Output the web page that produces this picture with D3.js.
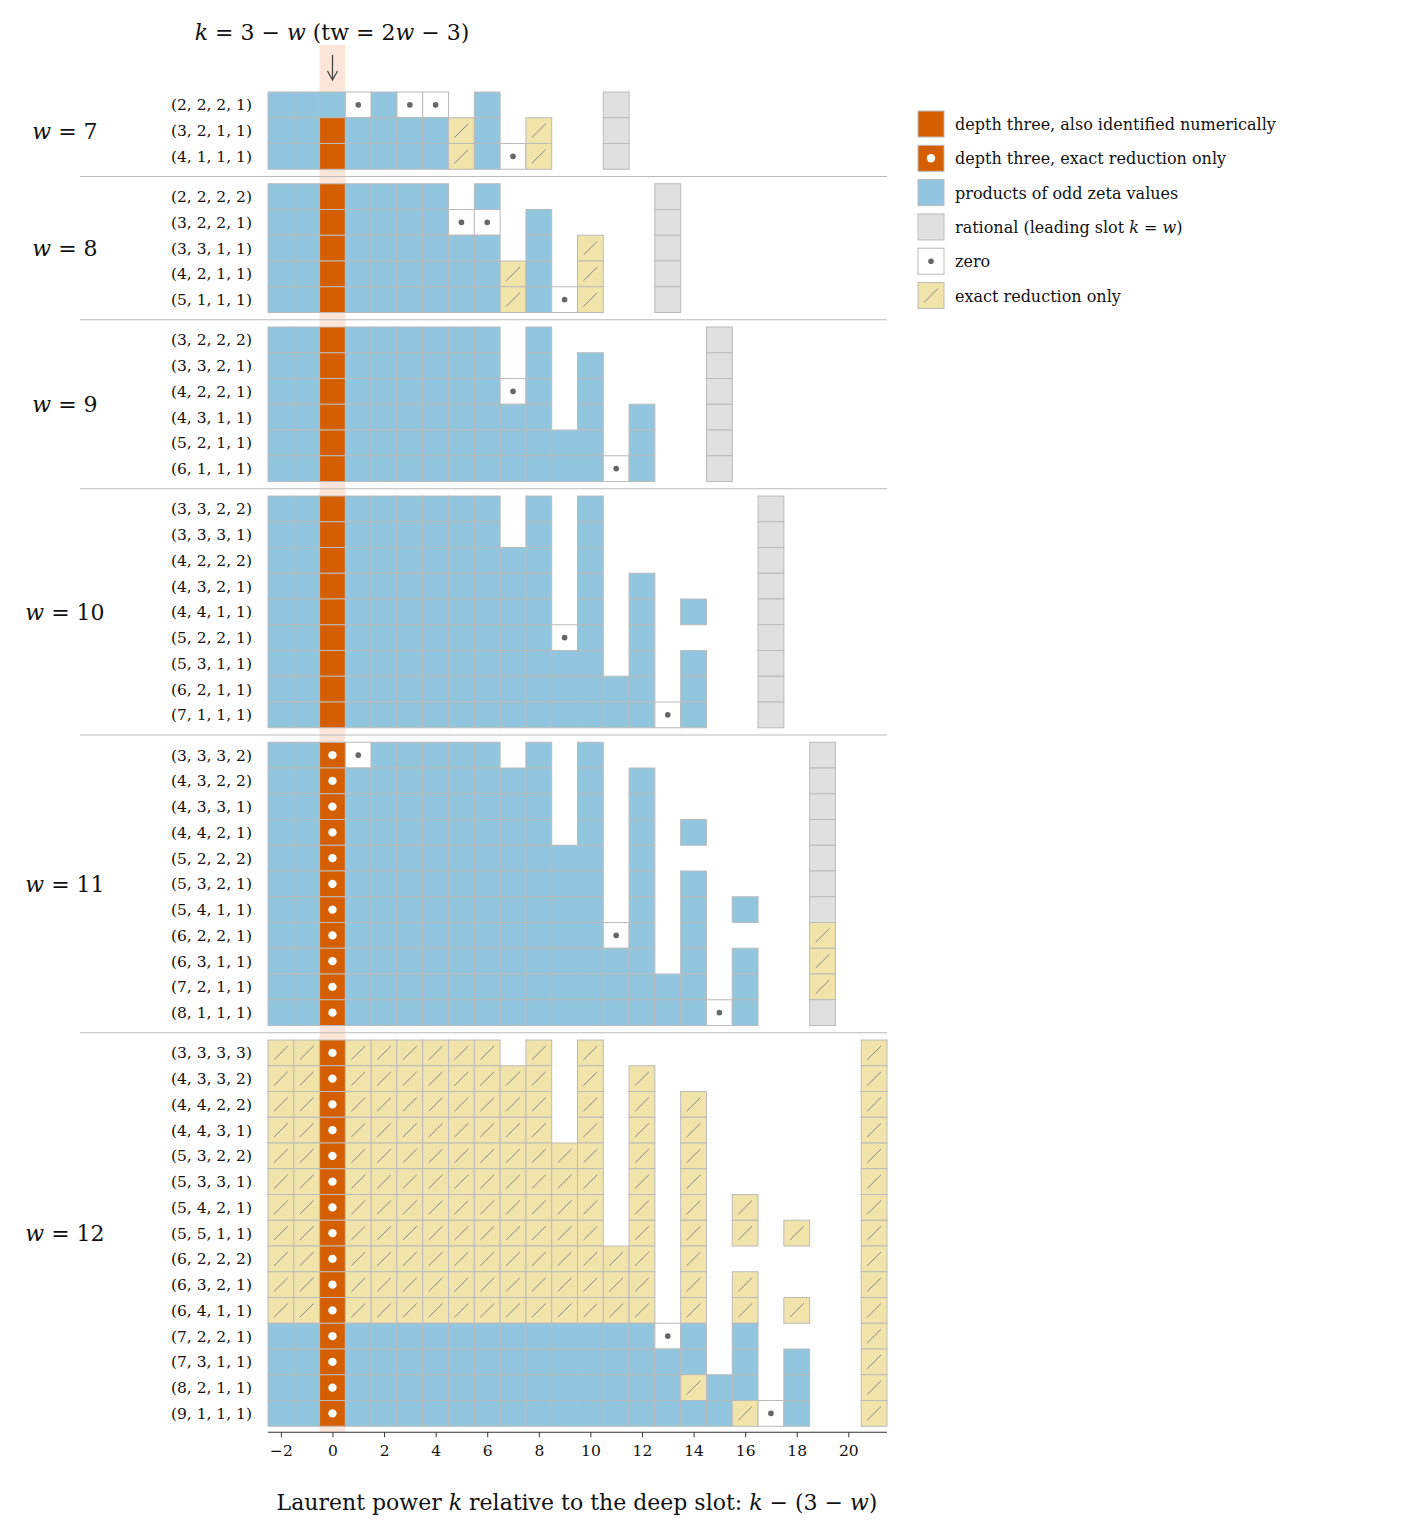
<!DOCTYPE html>
<html>
<head>
<meta charset="utf-8">
<script src="https://cdn.jsdelivr.net/npm/d3@7"></script>
<style>
  body { margin: 0; background: #fff; }
  text { font-family: "DejaVu Serif", "Liberation Serif", serif; fill: #111; }
</style>
</head>
<body>
<svg id="chart" width="1421" height="1535"></svg>
<script>
// cell codes per column k = -2 .. 21
// B products of odd zeta, O depth three (numeric), D depth three (exact only),
// G rational, Z zero, Y exact reduction only, " " empty
const weights = [7, 8, 9, 10, 11, 12];

const rowLabels = {
  7: ["(2, 2, 2, 1)", "(3, 2, 1, 1)", "(4, 1, 1, 1)"],
  8: ["(2, 2, 2, 2)", "(3, 2, 2, 1)", "(3, 3, 1, 1)", "(4, 2, 1, 1)", "(5, 1, 1, 1)"],
  9: ["(3, 2, 2, 2)", "(3, 3, 2, 1)", "(4, 2, 2, 1)", "(4, 3, 1, 1)", "(5, 2, 1, 1)", "(6, 1, 1, 1)"],
  10: ["(3, 3, 2, 2)", "(3, 3, 3, 1)", "(4, 2, 2, 2)", "(4, 3, 2, 1)", "(4, 4, 1, 1)",
       "(5, 2, 2, 1)", "(5, 3, 1, 1)", "(6, 2, 1, 1)", "(7, 1, 1, 1)"],
  11: ["(3, 3, 3, 2)", "(4, 3, 2, 2)", "(4, 3, 3, 1)", "(4, 4, 2, 1)", "(5, 2, 2, 2)",
       "(5, 3, 2, 1)", "(5, 4, 1, 1)", "(6, 2, 2, 1)", "(6, 3, 1, 1)", "(7, 2, 1, 1)", "(8, 1, 1, 1)"],
  12: ["(3, 3, 3, 3)", "(4, 3, 3, 2)", "(4, 4, 2, 2)", "(4, 4, 3, 1)", "(5, 3, 2, 2)",
       "(5, 3, 3, 1)", "(5, 4, 2, 1)", "(5, 5, 1, 1)", "(6, 2, 2, 2)", "(6, 3, 2, 1)",
       "(6, 4, 1, 1)", "(7, 2, 2, 1)", "(7, 3, 1, 1)", "(8, 2, 1, 1)", "(9, 1, 1, 1)"]
};

const rowCells = {
  7: ["BBBZBZZ B    G",
      "BBOBBBBYB Y  G",
      "BBOBBBBYBZY  G"],
  8: ["BBOBBBB B      G",
      "BBOBBBBZZ B    G",
      "BBOBBBBBB B Y  G",
      "BBOBBBBBBYB Y  G",
      "BBOBBBBBBYBZY  G"],
  9: ["BBOBBBBBB B      G",
      "BBOBBBBBB B B    G",
      "BBOBBBBBBZB B    G",
      "BBOBBBBBBBB B B  G",
      "BBOBBBBBBBBBB B  G",
      "BBOBBBBBBBBBBZB  G"],
  10: ["BBOBBBBBB B B      G",
       "BBOBBBBBB B B      G",
       "BBOBBBBBBBB B      G",
       "BBOBBBBBBBB B B    G",
       "BBOBBBBBBBB B B B  G",
       "BBOBBBBBBBBZB B    G",
       "BBOBBBBBBBBBB B B  G",
       "BBOBBBBBBBBBBBB B  G",
       "BBOBBBBBBBBBBBBZB  G"],
  11: ["BBDZBBBBB B B        G",
       "BBDBBBBBBBB B B      G",
       "BBDBBBBBBBB B B      G",
       "BBDBBBBBBBB B B B    G",
       "BBDBBBBBBBBBB B      G",
       "BBDBBBBBBBBBB B B    G",
       "BBDBBBBBBBBBB B B B  G",
       "BBDBBBBBBBBBBZB B    Y",
       "BBDBBBBBBBBBBBB B B  Y",
       "BBDBBBBBBBBBBBBBB B  Y",
       "BBDBBBBBBBBBBBBBBZB  G"],
  12: ["YYDYYYYYY Y Y          Y",
       "YYDYYYYYYYY Y Y        Y",
       "YYDYYYYYYYY Y Y Y      Y",
       "YYDYYYYYYYY Y Y Y      Y",
       "YYDYYYYYYYYYY Y Y      Y",
       "YYDYYYYYYYYYY Y Y      Y",
       "YYDYYYYYYYYYY Y Y Y    Y",
       "YYDYYYYYYYYYY Y Y Y Y  Y",
       "YYDYYYYYYYYYYYY Y      Y",
       "YYDYYYYYYYYYYYY Y Y    Y",
       "YYDYYYYYYYYYYYY Y Y Y  Y",
       "BBDBBBBBBBBBBBBZB B    Y",
       "BBDBBBBBBBBBBBBBB B B  Y",
       "BBDBBBBBBBBBBBBBYBB B  Y",
       "BBDBBBBBBBBBBBBBBBYZB  Y"]
};

const xTicks = [-2, 0, 2, 4, 6, 8, 10, 12, 14, 16, 18, 20];

const legendItems = [
  { code: "O", label: "depth three, also identified numerically" },
  { code: "D", label: "depth three, exact reduction only" },
  { code: "B", label: "products of odd zeta values" },
  { code: "G", label: "rational (leading slot ", math: "k = w", tail: ")" },
  { code: "Z", label: "zero" },
  { code: "Y", label: "exact reduction only" }
];

const fills = { B: "#92c5de", O: "#d55e00", D: "#d55e00", G: "#e0e0e0", Z: "#ffffff", Y: "#f1e4ab" };

const svg = d3.select("#chart");
const x = d3.scaleLinear().domain([-2.5, 21.5]).range([268, 887]);
const cw = x(1) - x(0);
const rowH = 25.75, gap = 14.5, topY = 92;

// flatten rows with y positions
const rows = [];
const groups = [];
let y = topY;
weights.forEach((w) => {
  const start = y;
  rowCells[w].forEach((s, i) => {
    rows.push({ w, label: rowLabels[w][i], cells: s, y });
    y += rowH;
  });
  groups.push({ w, y0: start, y1: y });
  y += gap;
});
const bottom = y - gap;

// highlight band at k = 0
svg.append("rect")
  .attr("x", x(-0.5)).attr("y", 45)
  .attr("width", cw).attr("height", bottom + 6 - 45)
  .attr("fill", "#fde6d9");

// separators
groups.slice(0, -1).forEach(g => {
  svg.append("line")
    .attr("x1", 80).attr("x2", 887)
    .attr("y1", g.y1 + gap / 2).attr("y2", g.y1 + gap / 2)
    .attr("stroke", "#bbb").attr("stroke-width", 1.2);
});

function drawCell(sel, code, cx, cy, w, h) {
  sel.append("rect")
    .attr("x", cx).attr("y", cy).attr("width", w).attr("height", h)
    .attr("fill", fills[code]).attr("stroke", "#bbb").attr("stroke-width", 1);
  if (code === "Z") {
    sel.append("circle").attr("cx", cx + w / 2).attr("cy", cy + h / 2).attr("r", 2.8).attr("fill", "#666");
  } else if (code === "D") {
    sel.append("circle").attr("cx", cx + w / 2).attr("cy", cy + h / 2).attr("r", 4.2).attr("fill", "#fff");
  } else if (code === "Y") {
    sel.append("line")
      .attr("x1", cx + 6).attr("y1", cy + h - 6)
      .attr("x2", cx + w - 6).attr("y2", cy + 6)
      .attr("stroke", "#888").attr("stroke-width", 1);
  }
}

const cellsG = svg.append("g");
rows.forEach(r => {
  r.cells.split("").forEach((c, i) => {
    if (c === " ") return;
    const k = i - 2;
    drawCell(cellsG, c, x(k - 0.5), r.y, cw, rowH);
  });
  svg.append("text")
    .attr("x", 252).attr("y", r.y + rowH / 2 + 5.5)
    .attr("text-anchor", "end").attr("font-size", 15.5)
    .text(r.label);
});

// group labels
groups.forEach(g => {
  const t = svg.append("text")
    .attr("x", 65).attr("y", (g.y0 + g.y1) / 2 + 8)
    .attr("text-anchor", "middle").attr("font-size", 22);
  t.append("tspan").attr("font-style", "italic").text("w");
  t.append("tspan").text(" = " + g.w);
});

// x axis
const axis = d3.axisBottom(x).tickValues(xTicks).tickSize(5)
  .tickFormat(d => d < 0 ? "\u2212" + Math.abs(d) : d);
const ax = svg.append("g").attr("transform", `translate(0,${bottom + 6})`).call(axis);
ax.select(".domain").attr("stroke", "#333").attr("d", `M${x(-2.5)},0H${x(21.5)}`);
ax.selectAll(".tick line").attr("stroke", "#333");
ax.selectAll(".tick text")
  .attr("font-family", "DejaVu Serif, serif").attr("font-size", 15.5).attr("fill", "#111").attr("dy", "1em");

// x label
const xl = svg.append("text").attr("x", 577).attr("y", 1510)
  .attr("text-anchor", "middle").attr("font-size", 22);
xl.append("tspan").text("Laurent power ");
xl.append("tspan").attr("font-style", "italic").text("k");
xl.append("tspan").text(" relative to the deep slot: ");
xl.append("tspan").attr("font-style", "italic").text("k");
xl.append("tspan").text(" \u2212 (3 \u2212 ");
xl.append("tspan").attr("font-style", "italic").text("w");
xl.append("tspan").text(")");

// top annotation
const tt = svg.append("text").attr("x", 332).attr("y", 40)
  .attr("text-anchor", "middle").attr("font-size", 22);
tt.append("tspan").attr("font-style", "italic").text("k");
tt.append("tspan").text(" = 3 \u2212 ");
tt.append("tspan").attr("font-style", "italic").text("w");
tt.append("tspan").text(" (tw = 2");
tt.append("tspan").attr("font-style", "italic").text("w");
tt.append("tspan").text(" \u2212 3)");

svg.append("line").attr("x1", x(0)).attr("x2", x(0)).attr("y1", 55).attr("y2", 79)
  .attr("stroke", "#444").attr("stroke-width", 1.3);
svg.append("path")
  .attr("d", `M${x(0) - 5},71 L${x(0)},80 L${x(0) + 5},71`)
  .attr("fill", "none").attr("stroke", "#444").attr("stroke-width", 1.3);

// legend
const lg = svg.append("g");
legendItems.forEach((d, i) => {
  const ly = 111 + i * 34.3;
  drawCell(lg, d.code, 918, ly, 26, 26);
  const t = lg.append("text").attr("x", 955).attr("y", ly + 19).attr("font-size", 16).text(d.label);
  if (d.math) {
    const [a, , b] = d.math.split(" ");
    t.append("tspan").attr("font-style", "italic").text(a);
    t.append("tspan").text(" = ");
    t.append("tspan").attr("font-style", "italic").text(b);
    t.append("tspan").text(d.tail);
  }
});
</script>
</body>
</html>
